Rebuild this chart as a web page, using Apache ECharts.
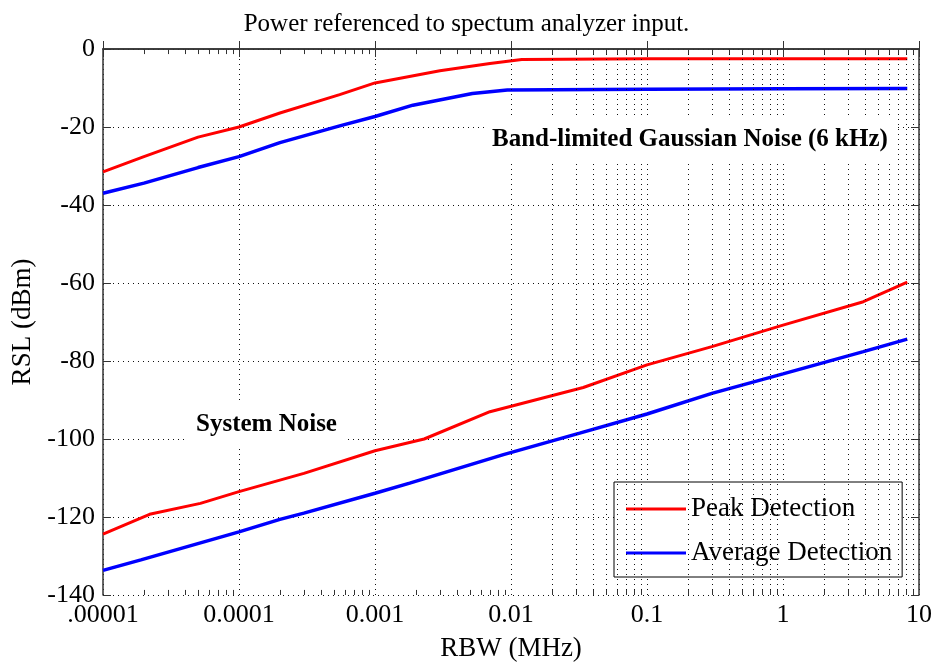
<!DOCTYPE html>
<html>
<head>
	<meta charset="utf-8"/>
	<title>RSL vs RBW</title>
	<script src="https://cdn.jsdelivr.net/npm/echarts@6/dist/echarts.min.js"></script>
</head>
<body style="margin: 0; background: #fff;">

	<div id="chart" style="width: 933px; height: 663px;"></div>

	<script>
		// x tick labels, one per decade from 1e-5 to 10
		var xTickLabels = ['.00001', '0.0001', '0.001', '0.01', '0.1', '1', '10'];

		// Band-limited Gaussian noise (6 kHz)
		var gaussPeakX = [1e-5, 2e-5, 5e-5, 1e-4, 2e-4, 5.5e-4, 1e-3, 3e-3, 7e-3, 0.012, 0.1, 1, 8.2];
		var gaussPeakY = [-31.5, -27.6, -22.6, -20, -16.4, -11.7, -8.7, -5.6, -3.7, -2.7, -2.5, -2.5, -2.5];
		var gaussAvgX = [1e-5, 2e-5, 5e-5, 1e-4, 2e-4, 5.5e-4, 1e-3, 1.9e-3, 5.2e-3, 9.4e-3, 0.1, 1, 8.2];
		var gaussAvgY = [-37, -34.4, -30.4, -27.6, -24, -19.7, -17.3, -14.4, -11.4, -10.5, -10.3, -10.2, -10.1];

		// System noise
		var sysPeakX = [1e-5, 2.2e-5, 5.2e-5, 1e-4, 3e-4, 1e-3, 2.3e-3, 7e-3, 0.034, 0.1, 0.3, 1, 3.9, 8.2];
		var sysPeakY = [-124.4, -119.3, -116.5, -113.5, -108.8, -103, -100, -93, -86.8, -81, -76.3, -70.8, -64.8, -59.8];
		var sysAvgX = [1e-5, 1.9e-5, 1e-4, 2e-4, 3e-4, 1e-3, 1.8e-3, 8.8e-3, 0.032, 0.1, 0.3, 1, 3.9, 8.2];
		var sysAvgY = [-133.7, -131, -123.8, -120.6, -119, -113.9, -111.3, -104, -98.5, -93.6, -88.3, -83.3, -77.6, -74.4];

		var FONT = '"Liberation Serif", "DejaVu Serif", serif';
		var dotted = { color: '#111', width: 1, type: [1, 4] };

		function pairs (xs, ys) {
			var out = [];
			for (var i = 0; i < xs.length; i++) {
				out.push([xs[i], ys[i]]);
			}
			return out;
		}

		// minor decade lines (2..9 x 10^k) and their little ticks top and bottom
		var minorGrid = [], minorTicks = [];
		for (var k = -5; k <= 0; k++) {
			for (var m = 2; m <= 9; m++) {
				var v = m * Math.pow(10, k);
				minorGrid.push({ xAxis: v });
				minorTicks.push([{ coord: [v, -140] }, { coord: [v, -138.7] }]);
				minorTicks.push([{ coord: [v, 0] }, { coord: [v, -1.3] }]);
			}
		}

		var oChart = document.getElementById('chart');
		var myChart = echarts.init(oChart);

		var option = {
			animation: false,
			title: {
				text: 'Power referenced to spectum analyzer input.',
				left: 'center',
				top: 7,
				textStyle: { fontFamily: FONT, fontSize: 25, fontWeight: 'normal', color: '#000' }
			},
			grid: { left: 103, right: 14, top: 49, bottom: 68, outerBoundsMode: 'none' },
			legend: {
				data: ['Peak Detection', 'Average Detection'],
				orient: 'vertical',
				left: 614,
				top: 482,
				padding: [13, 10, 10, 12],
				itemGap: 16,
				itemWidth: 60,
				itemHeight: 3,
				icon: 'rect',
				backgroundColor: '#fff',
				borderColor: '#000',
				borderWidth: 1,
				textStyle: { fontFamily: FONT, fontSize: 27, lineHeight: 28, color: '#000' }
			},
			xAxis: [
				{
					type: 'log',
					logBase: 10,
					min: 1e-5,
					max: 10,
					splitNumber: 6,
					name: 'RBW (MHz)',
					nameLocation: 'middle',
					nameGap: 40,
					nameTextStyle: { fontFamily: FONT, fontSize: 27, color: '#000' },
					axisLine: { lineStyle: { color: '#333', width: 1.5 } },
					axisTick: { inside: true, length: 8, lineStyle: { color: '#333' } },
					axisLabel: {
						fontFamily: FONT, fontSize: 26, color: '#000', margin: 7,
						formatter: function (v) {
							return xTickLabels[Math.round(Math.log10(v)) + 5];
						}
					},
					splitLine: { show: true, lineStyle: dotted }
				},
				{
					type: 'log',
					logBase: 10,
					min: 1e-5,
					max: 10,
					splitNumber: 6,
					position: 'top',
					axisLine: { lineStyle: { color: '#333', width: 1.5 } },
					axisTick: { inside: true, length: 8, lineStyle: { color: '#333' } },
					axisLabel: { show: false },
					splitLine: { show: false }
				}
			],
			yAxis: [
				{
					type: 'value',
					min: -140,
					max: 0,
					interval: 20,
					name: 'RSL (dBm)',
					nameLocation: 'middle',
					nameGap: 60,
					nameTextStyle: { fontFamily: FONT, fontSize: 27, color: '#000' },
					axisLine: { show: true, lineStyle: { color: '#333', width: 1.5 } },
					axisTick: { show: true, inside: true, length: 8, lineStyle: { color: '#333' } },
					axisLabel: { fontFamily: FONT, fontSize: 26, color: '#000', margin: 8 },
					splitLine: { show: true, lineStyle: dotted }
				},
				{
					type: 'value',
					min: -140,
					max: 0,
					interval: 20,
					position: 'right',
					axisLine: { show: true, lineStyle: { color: '#333', width: 1.5 } },
					axisTick: { show: true, inside: true, length: 8, lineStyle: { color: '#333' } },
					axisLabel: { show: false },
					splitLine: { show: false }
				}
			],
			graphic: [
				{
					type: 'text',
					left: 484,
					top: 119,
					z: 10,
					style: {
						text: 'Band-limited Gaussian Noise (6 kHz)',
						font: 'bold 25px ' + FONT,
						fill: '#000',
						backgroundColor: '#fff',
						padding: [8, 8, 8, 8]
					}
				},
				{
					type: 'text',
					left: 186,
					top: 404,
					z: 10,
					style: {
						text: 'System Noise',
						font: 'bold 25px ' + FONT,
						fill: '#000',
						backgroundColor: '#fff',
						padding: [8, 10, 8, 10]
					}
				}
			],
			series: [
				{
					// minor grid only
					type: 'line',
					data: [],
					z: 1,
					silent: true,
					markLine: {
						silent: true,
						symbol: 'none',
						label: { show: false },
						lineStyle: dotted,
						data: minorGrid
					}
				},
				{
					type: 'line',
					data: [],
					z: 1,
					silent: true,
					markLine: {
						silent: true,
						symbol: 'none',
						label: { show: false },
						lineStyle: { color: '#333', width: 1, type: 'solid' },
						data: minorTicks
					}
				},
				{
					name: 'Peak Detection',
					type: 'line',
					symbol: 'none',
					z: 3,
					data: pairs(gaussPeakX, gaussPeakY),
					lineStyle: { color: '#ff0000', width: 3 },
					itemStyle: { color: '#ff0000' }
				},
				{
					name: 'Average Detection',
					type: 'line',
					symbol: 'none',
					z: 3,
					data: pairs(gaussAvgX, gaussAvgY),
					lineStyle: { color: '#0000ff', width: 3.5 },
					itemStyle: { color: '#0000ff' }
				},
				{
					name: 'Peak Detection',
					type: 'line',
					symbol: 'none',
					z: 3,
					data: pairs(sysPeakX, sysPeakY),
					lineStyle: { color: '#ff0000', width: 3 },
					itemStyle: { color: '#ff0000' }
				},
				{
					name: 'Average Detection',
					type: 'line',
					symbol: 'none',
					z: 3,
					data: pairs(sysAvgX, sysAvgY),
					lineStyle: { color: '#0000ff', width: 3.5 },
					itemStyle: { color: '#0000ff' }
				}
			]
		};

		myChart.setOption(option);
	</script>
</body>
</html>
